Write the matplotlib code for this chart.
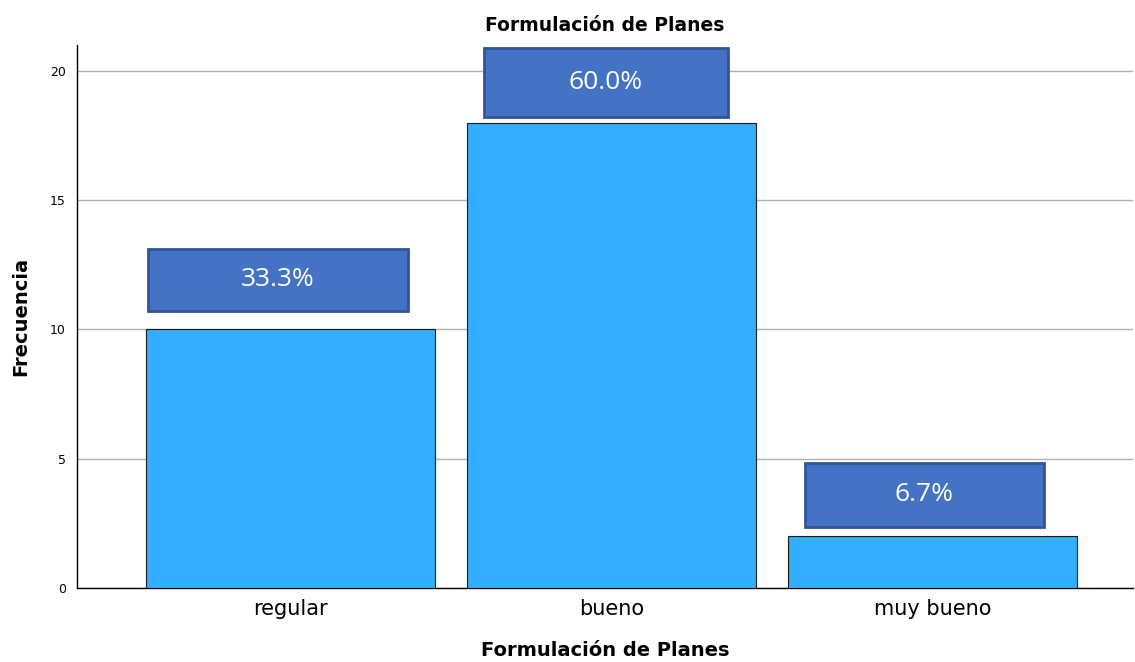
import matplotlib
matplotlib.use('Agg')
import matplotlib.pyplot as plt
from matplotlib.patches import Rectangle

# datos
categorias = ['regular', 'bueno', 'muy bueno']
frecuencias = [10, 18, 2]
porcentajes = ['33.3%', '60.0%', '6.7%']

# posicion de las cajas de etiqueta (relativo a cada barra)
caja_dx = [-0.039, -0.017, -0.025]
caja_ancho = [0.81, 0.76, 0.745]
caja_y0 = [0.72, 0.22, 0.36]
caja_y1 = [3.11, 2.89, 2.84]

fig = plt.figure(figsize=(11.35, 6.62), dpi=100)
ax = fig.add_axes([0.0678, 0.1118, 0.9304, 0.8202])

x = list(range(len(categorias)))
ax.bar(x, frecuencias, width=0.9, color='#31AEFF', edgecolor='#1a1a1a', linewidth=0.8, zorder=3)

# etiquetas de porcentaje en cajas
for i, (xi, v, p) in enumerate(zip(x, frecuencias, porcentajes)):
    cx = xi + caja_dx[i]
    y0 = v + caja_y0[i]
    y1 = v + caja_y1[i]
    box = Rectangle((cx - caja_ancho[i] / 2, y0), caja_ancho[i], y1 - y0,
                    facecolor='#4472C4', edgecolor='#2F5597', linewidth=2, zorder=4)
    ax.add_patch(box)
    ax.text(cx, (y0 + y1) / 2, p, ha='center', va='center', color='white',
            fontsize=19, family='Open Sans', zorder=5)

ax.set_xlim(-0.665, 2.625)
ax.set_ylim(0, 21)
ax.set_yticks([0, 5, 10, 15, 20])
ax.set_xticks(x)
ax.set_xticklabels(categorias, fontsize=15)
ax.tick_params(axis='y', labelsize=9, length=0, pad=8)
ax.tick_params(axis='x', length=0, pad=8)
ax.yaxis.grid(True, color='#b0b0b0', linewidth=1, zorder=0)
ax.set_axisbelow(True)
for s in ['top', 'right']:
    ax.spines[s].set_visible(False)
ax.spines['left'].set_linewidth(1)
ax.spines['bottom'].set_linewidth(1)

ax.set_title('Formulación de Planes', fontsize=13.5, fontweight='bold', pad=10)
ax.set_xlabel('Formulación de Planes', fontsize=14, fontweight='bold', labelpad=16)
ax.set_ylabel('Frecuencia', fontsize=14, fontweight='bold', labelpad=14)

fig.savefig('out.png', dpi=100)
